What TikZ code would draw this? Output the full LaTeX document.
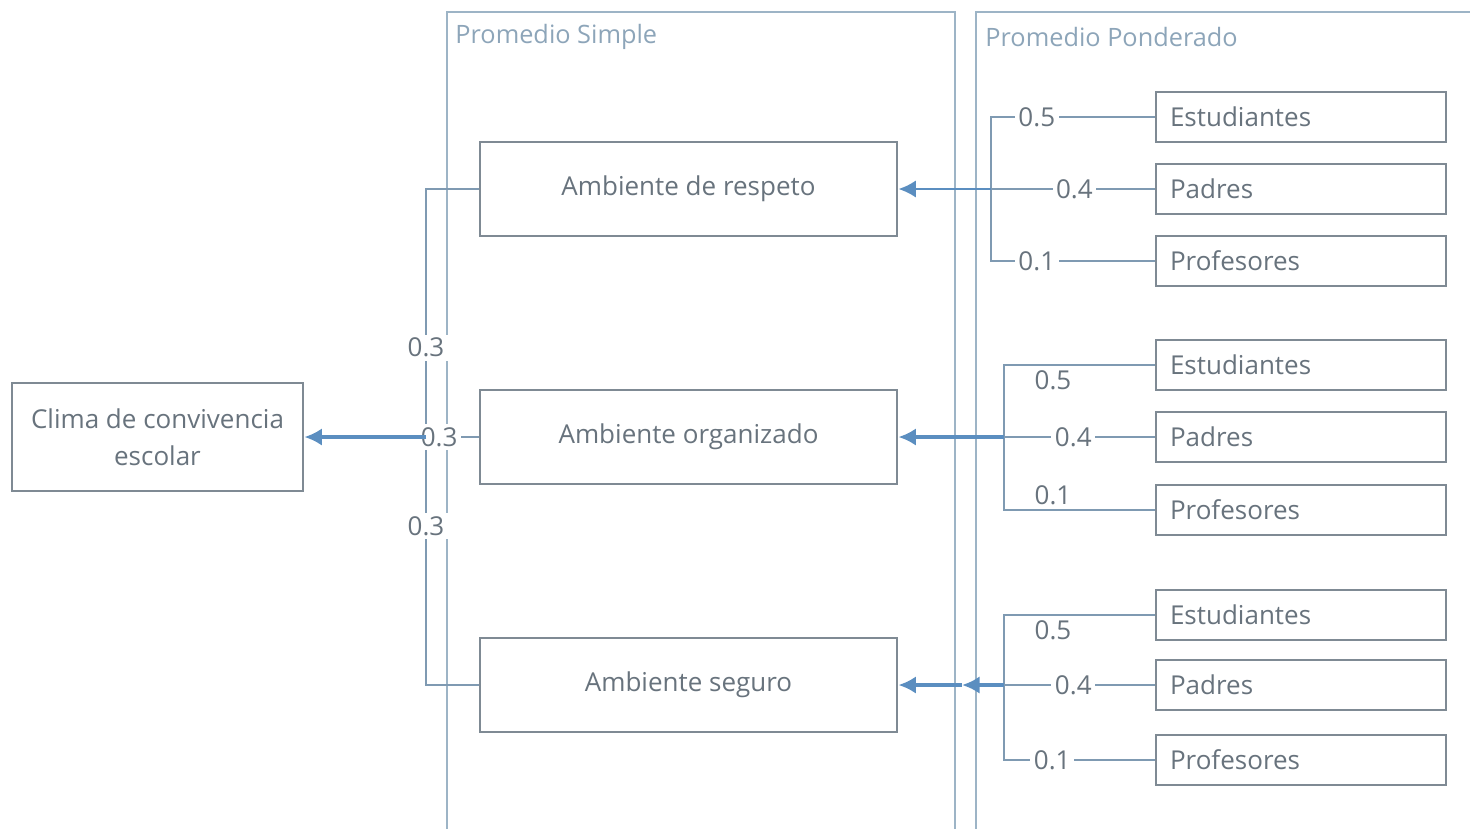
\documentclass[tikz,border=0pt]{standalone}
\usepackage{fontspec}
\setmainfont{Open Sans}
\usetikzlibrary{calc, positioning, arrows.meta}

\definecolor{borde}{HTML}{7F8A94}
\definecolor{linea}{HTML}{7F9AB2}
\definecolor{flechacol}{HTML}{5B8EC0}
\definecolor{texto}{HTML}{68737D}
\definecolor{titulo}{HTML}{8DA5B9}
\definecolor{marco}{HTML}{9DB4C6}

\tikzset{
  caja/.style={draw=borde, line width=0.8pt, fill=white, minimum width=4.17cm,
    minimum height=0.94cm, text=texto, font=\fontsize{7.4}{10.5}\selectfont},
  fuente/.style={draw=borde, line width=0.8pt, fill=white, minimum width=2.9cm,
    minimum height=0.5cm, inner xsep=0.14cm, text width=2.62cm, align=left,
    text=texto, font=\fontsize{7.4}{9}\selectfont},
  peso/.style={fill=white, inner sep=1pt, text=texto, font=\fontsize{7.4}{9}\selectfont},
  rotulo/.style={anchor=west, text=titulo, font=\fontsize{7.2}{9}\selectfont},
  conector/.style={draw=linea, line width=0.6pt},
  flecha/.style={draw=flechacol, line width=1pt, -{Latex[length=5pt,width=5pt]}}
}

\begin{document}
\begin{tikzpicture}
        \useasboundingbox (0,0) rectangle (14.7,-8.28);
        % marcos
        \draw[marco, line width=0.8pt] (4.47,-0.12) rectangle (9.55,-8.5);
        \draw[marco, line width=0.8pt] (9.76,-0.12) rectangle (14.9,-8.5);
        \node[rotulo] (tsimple) at (4.43,-0.37) {Promedio Simple};
        \node[rotulo] (tpond) at (9.73,-0.37) {Promedio Ponderado};

        % cajas
        \node[caja, minimum width=2.91cm, minimum height=1.08cm, align=center] (clima) at (1.575,-4.37) {Clima de convivencia\\escolar};
        \node[caja] (res) at (6.885,-1.89) {Ambiente de respeto};
        \node[caja] (org) at (6.885,-4.37) {Ambiente organizado};
        \node[caja] (seg) at (6.885,-6.85) {Ambiente seguro};

        \node[fuente] (est1) at (13.01,-1.17) {Estudiantes};
        \node[fuente] (pad1) at (13.01,-1.89) {Padres};
        \node[fuente] (prof1) at (13.01,-2.61) {Profesores};
        \node[fuente] (est2) at (13.01,-3.65) {Estudiantes};
        \node[fuente] (pad2) at (13.01,-4.37) {Padres};
        \node[fuente] (prof2) at (13.01,-5.10) {Profesores};
        \node[fuente] (est3) at (13.01,-6.15) {Estudiantes};
        \node[fuente] (pad3) at (13.01,-6.85) {Padres};
        \node[fuente] (prof3) at (13.01,-7.60) {Profesores};

        % promedio simple
        \coordinate (s1) at (4.26,-1.89);
        \coordinate (s3) at (4.26,-6.85);
        \draw[conector] (res.west) -- (s1) -- node[peso,pos=.32]{0.3} node[peso,pos=.68]{0.3} (s3) -- (seg.west);
        \draw[conector] (org.west) -- node[peso,pos=.75]{0.3} (s1 |- org.west) coordinate (s2);
        \draw[flecha, line width=1.4pt] (s2) -- (clima.east);

        % promedio ponderado
        \coordinate (b1) at (9.91,-1.17);
        \coordinate (b2) at (10.04,-3.65);
        \coordinate (b3) at (10.04,-6.15);
        \draw[conector] (est1.west) -- node[peso,pos=.72]{0.5} (b1) |- node[peso,pos=.64]{0.1} (prof1.west);
        \draw[conector] (est2.west) -- (b2) |- (prof2.west);
        \node[peso] (w25) at (10.53,-3.8) {0.5};
        \node[peso] (w21) at (10.53,-4.95) {0.1};
        \draw[conector] (est3.west) -- (b3) |- node[peso,pos=.66]{0.1} (prof3.west);
        \node[peso] (w35) at (10.53,-6.3) {0.5};

        \coordinate (m1) at (b1 |- pad1.west);
        \coordinate (m2) at (b2 |- pad2.west);
        \coordinate (m3) at (b3 |- pad3.west);
        \draw[conector] (pad1.west) -- node[peso,pos=.49]{0.4} (m1);
        \draw[conector] (pad2.west) -- node[peso,pos=.54]{0.4} (m2);
        \draw[conector] (pad3.west) -- node[peso,pos=.54]{0.4} (m3);
        \draw[flecha, line width=0.8pt] (m1) -- (res.east);
        \draw[flecha, line width=1.2pt] (m2) -- (org.east);
        \coordinate (e3) at (9.62,-6.85);
        \draw[flecha, line width=1.2pt] (m3) -- (e3);
        \draw[flecha, line width=1.2pt] (e3) -- (seg.east);
    \end{tikzpicture}
\end{document}
